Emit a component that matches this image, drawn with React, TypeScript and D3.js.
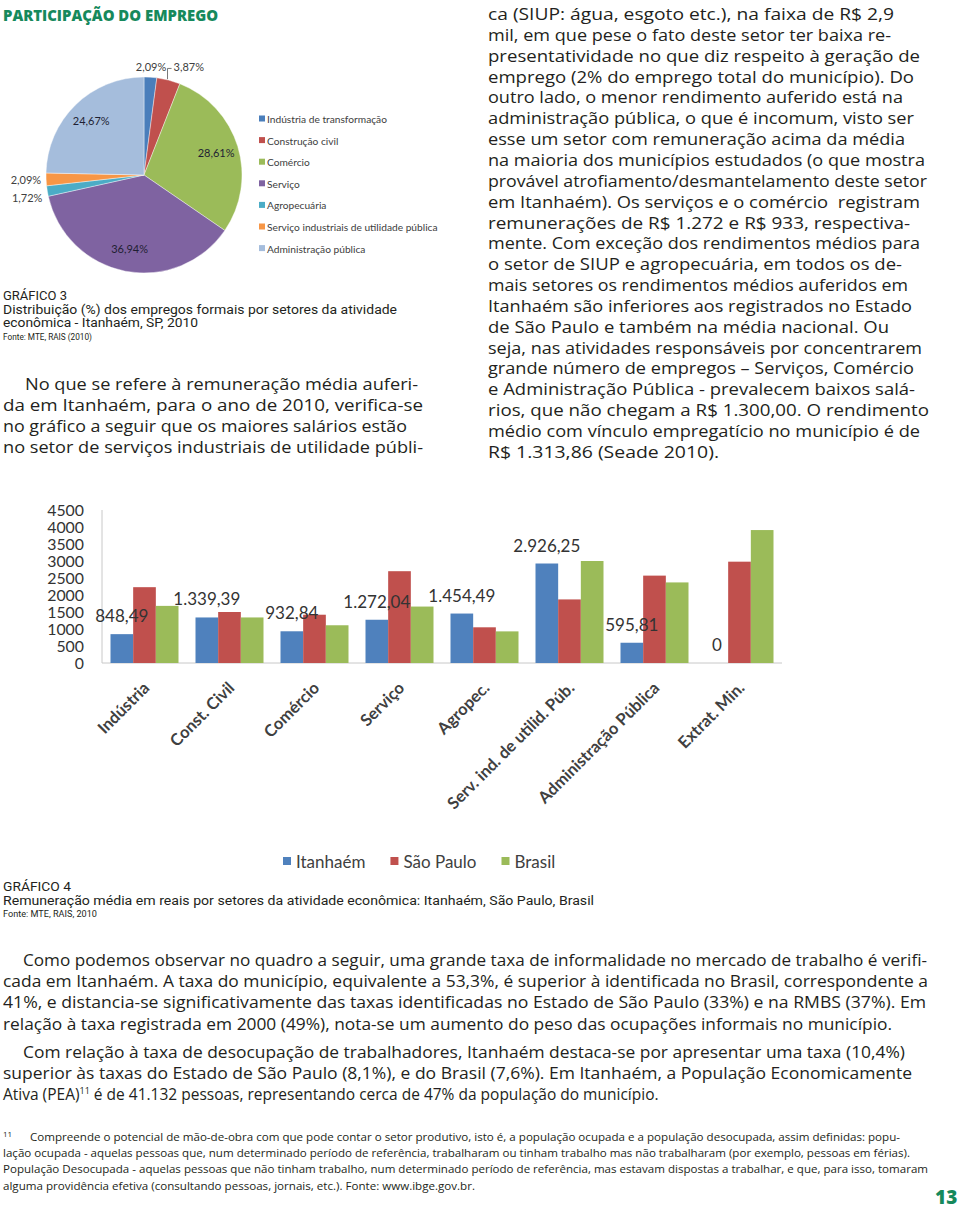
import React from 'react';
import * as d3 from 'd3';

// ---------- DATA ----------
const pieCategories = [
  'Indústria de transformação',
  'Construção civil',
  'Comércio',
  'Serviço',
  'Agropecuária',
  'Serviço industriais de utilidade pública',
  'Administração pública',
];
const pieValues = [2.09, 3.87, 28.61, 36.94, 1.72, 2.09, 24.67];
const pieColors = ['#4a7ebb', '#c0504d', '#9bbb59', '#7f63a1', '#4bacc6', '#f79646', '#a5bddc'];

const barCategories = [
  'Indústria',
  'Const. Civil',
  'Comércio',
  'Serviço',
  'Agropec.',
  'Serv. ind. de utilid. Púb.',
  'Administração Pública',
  'Extrat. Min.',
];
const seriesNames = ['Itanhaém', 'São Paulo', 'Brasil'];
const itanhaemValues = [848.49, 1339.39, 932.84, 1272.04, 1454.49, 2926.25, 595.81, 0];
const saoPauloValues = [2230, 1500, 1420, 2700, 1050, 1870, 2570, 2980];
const brasilValues = [1680, 1340, 1110, 1660, 930, 3000, 2370, 3910];
const seriesColors = ['#4f81bd', '#c0504d', '#9bbb59'];
const yTickValues = [0, 500, 1000, 1500, 2000, 2500, 3000, 3500, 4000, 4500];

// ---------- TEXT ----------
const leftBody = [
  'No que se refere à remuneração média auferi-',
  'da em Itanhaém, para o ano de 2010, verifica-se',
  'no gráfico a seguir que os maiores salários estão',
  'no setor de serviços industriais de utilidade públi-',
];
const leftEnds = [418, 423, 407, 423];
const rightBody = [
  'ca (SIUP: água, esgoto etc.), na faixa de R$ 2,9',
  'mil, em que pese o fato deste setor ter baixa re-',
  'presentatividade no que diz respeito à geração de',
  'emprego (2% do emprego total do município). Do',
  'outro lado, o menor rendimento auferido está na',
  'administração pública, o que é incomum, visto ser',
  'esse um setor com remuneração acima da média',
  'na maioria dos municípios estudados (o que mostra',
  'provável atrofiamento/desmantelamento deste setor',
  'em Itanhaém). Os serviços e o comércio  registram',
  'remunerações de R$ 1.272 e R$ 933, respectiva-',
  'mente. Com exceção dos rendimentos médios para',
  'o setor de SIUP e agropecuária, em todos os de-',
  'mais setores os rendimentos médios auferidos em',
  'Itanhaém são inferiores aos registrados no Estado',
  'de São Paulo e também na média nacional. Ou',
  'seja, nas atividades responsáveis por concentrarem',
  'grande número de empregos – Serviços, Comércio',
  'e Administração Pública - prevalecem baixos salá-',
  'rios, que não chegam a R$ 1.300,00. O rendimento',
  'médio com vínculo empregatício no município é de',
  'R$ 1.313,86 (Seade 2010).',
];
const rightEnds = [894, 891, 920, 914, 903, 914, 905, 925, 927, 920, 910, 920, 902, 908, 912, 889, 922, 914, 915, 929, 920, 719];

const para1 = [
  'Como podemos observar no quadro a seguir, uma grande taxa de informalidade no mercado de trabalho é verifi-',
  'cada em Itanhaém. A taxa do município, equivalente a 53,3%, é superior à identificada no Brasil, correspondente a',
  '41%, e distancia-se significativamente das taxas identificadas no Estado de São Paulo (33%) e na RMBS (37%). Em',
  'relação à taxa registrada em 2000 (49%), nota-se um aumento do peso das ocupações informais no município.',
];
const para1Ends = [927, 928, 926, 892];
const para2 = [
  'Com relação à taxa de desocupação de trabalhadores, Itanhaém destaca-se por apresentar uma taxa (10,4%)',
  'superior às taxas do Estado de São Paulo (8,1%), e do Brasil (7,6%). Em Itanhaém, a População Economicamente',
];
const para2Ends = [905, 912];

const footLines = [
  'Compreende o potencial de mão-de-obra com que pode contar o setor produtivo, isto é, a população ocupada e a população desocupada, assim definidas: popu-',
  'lação ocupada - aquelas pessoas que, num determinado período de referência, trabalharam ou tinham trabalho mas não trabalharam (por exemplo, pessoas em férias).',
  'População Desocupada - aquelas pessoas que não tinham trabalho, num determinado período de referência, mas estavam dispostas a trabalhar, e que, para isso, tomaram',
  'alguma providência efetiva (consultando pessoas, jornais, etc.). Fonte: www.ibge.gov.br.',
];
const footEnds = [900, 910, 928, 475];

const BODY_FONT = "'Open Sans', sans-serif";
const CAP_FONT = "Roboto, sans-serif";
const CHART_FONT = "Lato, 'Open Sans', sans-serif";
const GREEN = '#16895c';
const INK = '#231f20';

const ptBR = d3.formatLocale({ decimal: ',', thousands: '.', grouping: [3], currency: ['R$', ''] });
const fmtValue = (v: number) => (v === 0 ? '0' : ptBR.format(',.2f')(v));
const fmtPct = (v: number) => v.toFixed(2).replace('.', ',') + '%';

function measure(text: string, font: string): number {
  if (typeof document === 'undefined') return text.length * 8;
  const c = document.createElement('canvas').getContext('2d');
  if (!c) return text.length * 8;
  c.font = font;
  return c.measureText(text).width;
}

function PieChart() {
  const cx = 144, cy = 175, R = 98;
  const arcs = d3.pie<number>().sort(null).value((d) => d)(pieValues);
  const arcGen = d3.arc<d3.PieArcDatum<number>>().innerRadius(0).outerRadius(R);
  const polar = (a: number, r: number) => [cx + Math.sin(a) * r, cy - Math.cos(a) * r];

  type Lab = { i: number; x: number; y: number; anchor: string; leader?: number[][] };
  const inside: Lab[] = [];
  const top: Lab[] = [];
  const left: Lab[] = [];
  arcs.forEach((a, i) => {
    const mid = (a.startAngle + a.endAngle) / 2;
    if (a.value >= 5) {
      const [x, y] = polar(mid, R * 0.77);
      inside.push({ i, x, y: y + 4, anchor: 'middle' });
    } else if (Math.sin(mid) < -0.5) {
      const [x, y] = polar(mid, R * 1.04);
      left.push({ i, x: x - 1, y: y + 4, anchor: 'end' });
    } else {
      const [x, y] = polar(mid, R * 1.1);
      top.push({ i, x, y: y + 4, anchor: 'middle' });
    }
  });
  left.sort((a, b) => a.y - b.y);
  for (let k = 1; k < left.length; k++) {
    if (left[k].y - left[k - 1].y < 18) left[k].y = left[k - 1].y + 18;
  }
  top.sort((a, b) => a.x - b.x);
  const lw = 27;
  for (let k = 1; k < top.length; k++) {
    const prevRight = top[k - 1].x + lw / 2;
    if (top[k].x - lw / 2 < prevRight + 4) {
      const a = arcs[top[k].i];
      const mid = (a.startAngle + a.endAngle) / 2;
      const [ax, ay] = polar(mid, R);
      const lx = prevRight + 9;
      top[k].y = top[k - 1].y;
      top[k].x = lx;
      top[k].anchor = 'start';
      top[k].leader = [[ax - 1, ay - 1], [ax - 1, top[k].y - 3], [lx - 2, top[k].y - 3]];
    }
  }
  const labels = [...inside, ...top, ...left];
  const legendY0 = 119, legendDy = 21.6;
  return (
    <g>
      <g transform={`translate(${cx},${cy})`}>
        {arcs.map((a, i) => (
          <path key={i} d={arcGen(a) || ''} fill={pieColors[i]} stroke="#fff" strokeWidth={0.4} />
        ))}
      </g>
      {labels.map((l, k) => (
        <g key={k}>
          {l.leader && (
            <polyline points={l.leader.map((p) => p.join(',')).join(' ')} fill="none" stroke="#555" strokeWidth={0.8} />
          )}
          <text x={l.x} y={l.y} textAnchor={l.anchor as any} fontFamily={CHART_FONT} fontSize={11}
            fill={pieValues[l.i] >= 5 ? '#1f1f33' : '#404040'}>
            {fmtPct(pieValues[l.i])}
          </text>
        </g>
      ))}
      {pieCategories.map((c, i) => (
        <g key={c} transform={`translate(259,${legendY0 + i * legendDy})`}>
          <rect x={0} y={-3.5} width={6} height={6} fill={pieColors[i]} />
          <text x={8} y={0} dominantBaseline="central" fontFamily={CHART_FONT} fontSize={10.2} fill="#404040">{c}</text>
        </g>
      ))}
    </g>
  );
}

function BarChart() {
  const x0 = d3.scaleBand<string>().domain(barCategories).range([102, 782]).paddingInner(0.2).paddingOuter(0.1);
  const x1 = d3.scaleBand<string>().domain(seriesNames).range([0, x0.bandwidth()]);
  const y = d3.scaleLinear().domain([0, 4500]).range([663, 510]);
  const series = [itanhaemValues, saoPauloValues, brasilValues];
  const legendFont = `17px Lato`;
  let lx = 283;
  const legendItems = seriesNames.map((s, i) => {
    const w = measure(s, legendFont);
    const item = { s, i, x: lx };
    lx += 8 + 5 + w + 25;
    return item;
  });
  return (
    <g>
      <line x1={102} x2={102} y1={y(4500)} y2={y(0)} stroke="#c8c8c8" strokeWidth={1} />
      <line x1={102} x2={782} y1={y(0)} y2={y(0)} stroke="#c8c8c8" strokeWidth={1} />
      {yTickValues.map((t) => (
        <text key={t} x={84} y={y(t)} textAnchor="end" dominantBaseline="central" fontFamily={CHART_FONT} fontSize={15} fill="#333"
          textLength={String(t).length * 9.2} lengthAdjust="spacingAndGlyphs">
          {t}
        </text>
      ))}
      {barCategories.map((c, ci) => (
        <g key={c}>
          {series.map((vals, si) => (
            <rect key={si} x={(x0(c) || 0) + (x1(seriesNames[si]) || 0)} y={y(vals[ci])}
              width={x1.bandwidth()} height={y(0) - y(vals[ci])} fill={seriesColors[si]} />
          ))}
          <text x={(x0(c) || 0) + (x1(seriesNames[0]) || 0) + x1.bandwidth() / 2} y={y(itanhaemValues[ci]) - 12}
            textAnchor="middle" fontFamily={CHART_FONT} fontSize={17} fill="#333">
            {fmtValue(itanhaemValues[ci])}
          </text>
          <text transform={`translate(${(x0(c) || 0) + x0.bandwidth() / 2 + 6},${689}) rotate(-45)`} textAnchor="end"
            fontFamily={CHART_FONT} fontWeight={700} fontSize={16.5} fill="#404040">
            {c}
          </text>
        </g>
      ))}
      {legendItems.map((it) => (
        <g key={it.s}>
          <rect x={it.x} y={857} width={8} height={8} fill={seriesColors[it.i]} />
          <text x={it.x + 13} y={861} dominantBaseline="central" fontFamily={CHART_FONT} fontSize={17} fill="#404040">{it.s}</text>
        </g>
      ))}
    </g>
  );
}

function TextBlock({ lines, ends, xs, y0, dy, size, font, adjust = 'spacing', fill = INK }:
  { lines: string[]; ends?: (number | null)[]; xs: number[]; y0: number; dy: number; size: number; font: string; adjust?: string; fill?: string }) {
  return (
    <g>
      {lines.map((t, i) => {
        const x = xs[Math.min(i, xs.length - 1)];
        const e = ends ? ends[i] : null;
        return (
          <text key={i} x={x} y={y0 + i * dy} fontFamily={font} fontSize={size} fill={fill}
            {...(e ? { textLength: e - x, lengthAdjust: adjust } : {})} style={{ whiteSpace: 'pre' }}>
            {t}
          </text>
        );
      })}
    </g>
  );
}

export default function App() {
  return (
    <svg width={960} height={1211} viewBox="0 0 960 1211" style={{ position: 'absolute', left: 0, top: 0, background: '#fff' }}>
      <rect width={960} height={1211} fill="#fff" />
      <text x={3} y={21} fontFamily={BODY_FONT} fontWeight={800} fontSize={16.5} fill={GREEN} textLength={215} lengthAdjust="spacingAndGlyphs">
        PARTICIPAÇÃO DO EMPREGO
      </text>
      <PieChart />
      <text x={3} y={300} fontFamily={CAP_FONT} fontSize={12.5} fill={INK} textLength={64} lengthAdjust="spacingAndGlyphs">GRÁFICO 3</text>
      <text x={3} y={314} fontFamily={CAP_FONT} fontSize={12.5} fill={INK} textLength={394} lengthAdjust="spacingAndGlyphs">Distribuição (%) dos empregos formais por setores da atividade</text>
      <text x={3} y={327} fontFamily={CAP_FONT} fontSize={12.5} fill={INK} textLength={195} lengthAdjust="spacingAndGlyphs">econômica - Itanhaém, SP, 2010</text>
      <text x={3} y={340} fontFamily={CAP_FONT} fontSize={9} fill={INK} textLength={89} lengthAdjust="spacingAndGlyphs">Fonte: MTE, RAIS (2010)</text>

      <TextBlock lines={leftBody} ends={leftEnds} xs={[25, 3]} y0={390} dy={20.85} size={16} font={BODY_FONT} adjust="spacingAndGlyphs" />
      <TextBlock lines={rightBody} ends={rightEnds} xs={[488]} y0={20} dy={20.85} size={16} font={BODY_FONT} adjust="spacingAndGlyphs" />

      <BarChart />

      <text x={3} y={891} fontFamily={CAP_FONT} fontSize={12.5} fill={INK} textLength={68} lengthAdjust="spacingAndGlyphs">GRÁFICO 4</text>
      <text x={3} y={905} fontFamily={CAP_FONT} fontSize={12.5} fill={INK} textLength={591} lengthAdjust="spacingAndGlyphs">Remuneração média em reais por setores da atividade econômica: Itanhaém, São Paulo, Brasil</text>
      <text x={3} y={917} fontFamily={CAP_FONT} fontSize={9} fill={INK} textLength={94} lengthAdjust="spacingAndGlyphs">Fonte: MTE, RAIS, 2010</text>

      <TextBlock lines={para1} ends={para1Ends} xs={[23, 3]} y0={966} dy={21.2} size={15.5} font={BODY_FONT} adjust="spacingAndGlyphs" />
      <TextBlock lines={para2} ends={para2Ends} xs={[23, 3]} y0={1058} dy={21.2} size={15.5} font={BODY_FONT} adjust="spacingAndGlyphs" />
      <text x={3} y={1100} fontFamily={BODY_FONT} fontSize={15.5} fill={INK}>
        Ativa (PEA)
        <tspan fontSize={9} dy={-6}>11</tspan>
        <tspan dy={6}> é de 41.132 pessoas, representando cerca de 47% da população do município.</tspan>
      </text>

      <text x={3} y={1137} fontFamily={BODY_FONT} fontSize={8} fill={INK}>11</text>
      <TextBlock lines={footLines} ends={footEnds} xs={[30, 3]} y0={1141} dy={16.2} size={10.5} font={BODY_FONT} adjust="spacingAndGlyphs" />

      <text x={935} y={1204} fontFamily={BODY_FONT} fontWeight={800} fontSize={19} fill={GREEN}>13</text>
    </svg>
  );
}
